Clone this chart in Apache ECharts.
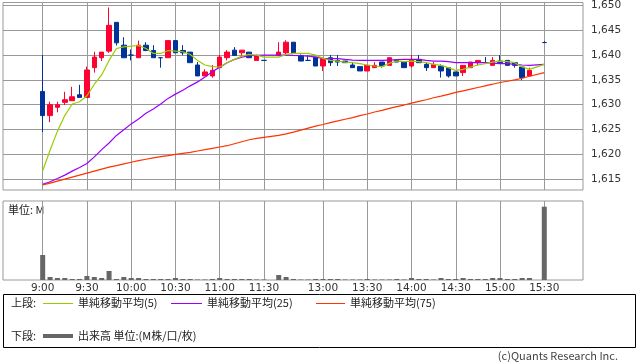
<!DOCTYPE html>
<html><head><meta charset="utf-8">
<style>html,body{margin:0;padding:0;background:#fff}#c{width:638px;height:362px}</style>
<script src="https://cdn.jsdelivr.net/npm/echarts@6/dist/echarts.min.js"></script>
</head><body><div id="c"></div><script>
// 5-minute slots: 0 = 9:00 ... 30 = 11:30, 31 = lunch gap, 32 = 12:30 ... 68 = 15:30
const candleSlots = [0,1,2,3,4,5,6,7,8,9,10,11,12,13,14,15,16,17,18,19,20,21,22,23,24,25,26,27,28,29,30,
  32,33,34,35,36,37,38,39,40,41,42,43,44,45,46,47,48,49,50,51,52,53,54,55,56,57,58,59,60,61,62,63,64,65,66,68];
const openP = [1632.67,1627.8,1629.47,1630.47,1630.8,1632,1631.47,1637.47,1639.47,1640.8,1646.6,1642,1640,1639.47,1642,1640.93,1639.47,1639.47,1642.93,1640.93,1640.6,1638,1635.8,1635.8,1637.47,1639.47,1641,1640.47,1640.6,1638.93,1638.93,
  1639.93,1640.47,1642.6,1639.93,1638.93,1639.6,1637.8,1639.47,1638.93,1638.8,1638,1637.67,1636.8,1637.47,1638.6,1637.93,1638.93,1638.6,1637.8,1639.13,1638.13,1637.47,1637.8,1637.47,1636.6,1636.47,1637.47,1638.47,1638.47,1637.93,1638.8,1638.93,1638.47,1637.6,1635.8,1642.53];
const closeP = [1627.8,1630,1630,1631,1631.6,1631.47,1637,1639.6,1640.6,1646,1642.47,1639.47,1640,1642,1640.93,1639.47,1639.47,1642.93,1640.47,1640.47,1638.47,1635.8,1636.6,1636.93,1639.6,1640.6,1639.93,1641,1639.47,1639.8,1638.93,
  1640.6,1642.6,1640.47,1638.8,1638.93,1637.8,1639.3,1638.47,1638.6,1638.47,1637.47,1636.8,1637.93,1637.93,1637.8,1639.47,1638.6,1637.47,1639.13,1638.47,1637.47,1638.13,1636.8,1635.8,1635.8,1637.93,1638.6,1638.93,1638.47,1638.93,1638.47,1637.93,1637.93,1635.47,1636.93,1642.53];
const lowP = [1624.47,1626.47,1628.47,1629.93,1630.8,1631.47,1631.47,1636.47,1638.8,1640.47,1641.93,1639.47,1638.93,1639.47,1640.8,1639.47,1637.47,1639.47,1640.47,1640,1638.47,1635.8,1635.8,1635.47,1637.47,1638.93,1639.93,1639.6,1639.47,1638.93,1638.93,
  1639.93,1640.13,1640.47,1638.8,1638.93,1637.8,1636.8,1637.8,1637.8,1638.47,1637.47,1636.8,1636.8,1637.47,1637.47,1637.93,1638.6,1637.47,1637.47,1638.47,1636.8,1637.47,1635.47,1635.47,1635.8,1635.8,1637.47,1637.93,1638.47,1637.93,1638.47,1637.93,1637.47,1634.93,1635.8,1642.53];
const highP = [1640,1630.6,1630.6,1632.6,1633.6,1634,1637.67,1640.67,1640.6,1649.6,1646.6,1643.6,1641.13,1642.93,1642.6,1642,1639.47,1642.93,1642.93,1642,1640.6,1638.6,1637.13,1638,1640,1641,1641.6,1641,1640.6,1640.13,1638.93,
  1642.6,1643,1642.6,1640.13,1640,1639.6,1639.47,1640,1640,1638.8,1638.47,1637.67,1637.93,1638.6,1638.6,1639.6,1638.93,1638.6,1640,1640,1638.6,1638.6,1638.13,1637.47,1636.6,1637.93,1638.6,1638.93,1639.6,1639.6,1640,1638.93,1638.47,1637.6,1637.47,1642.8];
const ma5 = [1616.67,1620.8,1624.67,1627.8,1630.13,1630.6,1631.8,1634.13,1636,1638.93,1641.33,1641.67,1641.8,1641.93,1641.33,1640.33,1640.33,1640.93,1640.8,1640.67,1640.13,1638.93,1638,1637.67,1637.6,1638.47,1639.13,1639.8,1640.13,1640,1639.6,
  1639.6,1640.13,1640.33,1640.33,1640.33,1640,1639.33,1638.93,1638.8,1638.6,1638.47,1638.27,1638,1637.8,1637.67,1638.33,1638.8,1638.67,1638.8,1638.67,1638.47,1638.13,1637.93,1637.47,1636.93,1637.13,1637.6,1638,1638.27,1638.6,1638.8,1638.67,1638.47,1637.6,1637.13,1638.13];
const ma25 = [1613.93,1614.47,1615.13,1615.8,1616.6,1617.33,1618.13,1619.47,1620.93,1622.27,1623.8,1624.93,1626.13,1627.13,1628.27,1629.13,1630.13,1631.27,1632.13,1632.93,1633.8,1634.6,1635.6,1636.67,1637.53,1638.47,1639.13,1639.6,1639.87,1639.93,1640,
  1640,1640,1639.93,1639.87,1639.8,1639.6,1639.33,1639.27,1639.27,1639.13,1639,1638.93,1638.93,1638.93,1638.93,1639,1639.07,1639.13,1639.13,1639.13,1638.93,1638.8,1638.8,1638.67,1638.47,1638.47,1638.47,1638.47,1638.47,1638.4,1638.27,1638.27,1638.13,1638,1637.93,1638.13];
const ma75 = [1613.8,1614.2,1614.6,1615,1615.4,1615.8,1616.2,1616.6,1617,1617.4,1617.73,1618.07,1618.4,1618.73,1619,1619.27,1619.53,1619.73,1620,1620.2,1620.4,1620.67,1620.93,1621.2,1621.47,1621.73,1622.13,1622.53,1622.93,1623.2,1623.4,
  1623.8,1624.13,1624.47,1624.87,1625.27,1625.67,1626,1626.4,1626.73,1627.07,1627.4,1627.8,1628.13,1628.53,1628.87,1629.27,1629.6,1629.93,1630.33,1630.67,1631,1631.4,1631.73,1632.07,1632.47,1632.8,1633.13,1633.47,1633.8,1634.13,1634.47,1634.73,1635,1635.33,1635.73,1636.47];
const volume = [2.5,0.3,0.2,0.2,0.1,0.1,0.4,0.3,0.2,0.9,0.1,0.3,0.2,0.2,0.1,0.1,0.1,0.1,0.2,0.1,0.1,0.05,0.05,0.1,0.2,0.1,0.1,0.1,0.1,0.05,0.05,
  0.5,0.3,0.1,0.05,0.05,0.1,0.1,0.1,0.1,0.05,0.05,0.05,0.1,0.05,0.05,0.05,0.1,0.05,0.2,0.1,0.1,0.05,0.2,0.1,0.1,0.2,0.1,0.1,0.1,0.2,0.2,0.1,0.1,0.2,0.2,7.33];
const timeTickSlots = [0,6,12,18,24,30,38,44,50,56,62,68];
const timeTickLabels = ['9:00','9:30','10:00','10:30','11:00','11:30','13:00','13:30','14:00','14:30','15:00','15:30'];
const priceTicks = [1615,1620,1625,1630,1635,1640,1645,1650];

const UP = '#ff0033', DOWN = '#003399', GRID = '#999999';
const candleData = candleSlots.map((s, i) => {
  const item = { value: [s, openP[i], closeP[i], lowP[i], highP[i]] };
  if (openP[i] === closeP[i]) item.itemStyle = { color: DOWN, color0: DOWN, borderColor: DOWN, borderColor0: DOWN };
  return item;
});
const pair = arr => candleSlots.map((s, i) => [s, arr[i]]);

const xMin = -5.38, xMax = 73.25;
const axFont = { fontFamily: 'DejaVu Sans', fontSize: 10.5, color: '#333' };
const jp = 'Noto Sans CJK JP';

const chart = echarts.init(document.getElementById('c'), null, { renderer: 'canvas' });
chart.setOption({
  animation: false,
  backgroundColor: '#fff',
  grid: [
    { left: 3, top: 1, width: 580, height: 189, show: true, borderColor: GRID, borderWidth: 1, containLabel: false },
    { left: 3, top: 201, width: 580, height: 79, show: true, borderColor: GRID, borderWidth: 1, containLabel: false }
  ],
  xAxis: [
    { type: 'value', gridIndex: 0, min: xMin, max: xMax, axisLine: { show: false },
      axisTick: { show: false, customValues: timeTickSlots }, axisLabel: { show: false },
      splitLine: { show: true, lineStyle: { color: GRID, width: 1 } } },
    { type: 'value', gridIndex: 1, min: xMin, max: xMax, axisLine: { show: false },
      axisTick: { show: false, customValues: timeTickSlots },
      axisLabel: { show: true, customValues: timeTickSlots, margin: 3, ...axFont,
        formatter: v => timeTickLabels[timeTickSlots.indexOf(Math.round(v))] || '' },
      splitLine: { show: true, lineStyle: { color: GRID, width: 1 } } }
  ],
  yAxis: [
    { type: 'value', gridIndex: 0, position: 'right', min: 1612.8, max: 1650.6, scale: true,
      axisLine: { show: false },
      axisTick: { show: true, inside: false, length: 3, customValues: priceTicks, lineStyle: { color: GRID } },
      axisLabel: { show: true, customValues: priceTicks, margin: 8, ...axFont,
        formatter: v => String(Math.round(v)).replace(/(\d)(\d{3})$/, '$1,$2') },
      splitLine: { show: true, lineStyle: { color: GRID, width: 1 } } },
    { type: 'value', gridIndex: 1, position: 'right', min: 0, max: 7.9,
      axisLine: { show: false }, axisTick: { show: false }, axisLabel: { show: false }, splitLine: { show: false } }
  ],
  series: [
    { type: 'candlestick', name: '株価', xAxisIndex: 0, yAxisIndex: 0, data: candleData,
      encode: { x: 0, y: [1, 2, 3, 4] }, barWidth: 5, z: 2,
      itemStyle: { color: UP, color0: DOWN, borderColor: UP, borderColor0: DOWN, borderWidth: 1 } },
    { type: 'line', name: '単純移動平均(5)', data: pair(ma5), showSymbol: false, symbol: 'none', z: 4,
      lineStyle: { color: '#99cc00', width: 1.2 }, itemStyle: { color: '#99cc00' } },
    { type: 'line', name: '単純移動平均(25)', data: pair(ma25), showSymbol: false, symbol: 'none', z: 3,
      lineStyle: { color: '#9900ff', width: 1.2 }, itemStyle: { color: '#9900ff' } },
    { type: 'line', name: '単純移動平均(75)', data: pair(ma75), showSymbol: false, symbol: 'none', z: 3,
      lineStyle: { color: '#ff3300', width: 1.2 }, itemStyle: { color: '#ff3300' } },
    { type: 'bar', name: '出来高 単位:(M株/口/枚)', xAxisIndex: 1, yAxisIndex: 1, data: pair(volume),
      barWidth: 5, itemStyle: { color: '#666666' } }
  ],
  graphic: [
    { type: 'text', left: 8, top: 204, style: { text: '単位: M', font: '11px "' + jp + '"', fill: '#222' } },
    { type: 'rect', shape: { x: 3.5, y: 294.5, width: 632, height: 53 }, style: { fill: 'none', stroke: '#000', lineWidth: 1 } },
    { type: 'text', x: 11, y: 303, style: { text: '上段:', font: '11px "' + jp + '"', fill: '#222', verticalAlign: 'middle' } },
    { type: 'line', shape: { x1: 43, y1: 303.5, x2: 73, y2: 303.5 }, style: { stroke: '#99cc00', lineWidth: 1 } },
    { type: 'text', x: 78, y: 303, style: { text: '単純移動平均(5)', font: '11px "' + jp + '"', fill: '#222', verticalAlign: 'middle' } },
    { type: 'line', shape: { x1: 171, y1: 303.5, x2: 202, y2: 303.5 }, style: { stroke: '#9900ff', lineWidth: 1 } },
    { type: 'text', x: 207, y: 303, style: { text: '単純移動平均(25)', font: '11px "' + jp + '"', fill: '#222', verticalAlign: 'middle' } },
    { type: 'line', shape: { x1: 316, y1: 303.5, x2: 345, y2: 303.5 }, style: { stroke: '#ff3300', lineWidth: 1 } },
    { type: 'text', x: 350, y: 303, style: { text: '単純移動平均(75)', font: '11px "' + jp + '"', fill: '#222', verticalAlign: 'middle' } },
    { type: 'text', x: 11, y: 336, style: { text: '下段:', font: '11px "' + jp + '"', fill: '#222', verticalAlign: 'middle' } },
    { type: 'line', shape: { x1: 43, y1: 336, x2: 73, y2: 336 }, style: { stroke: '#666666', lineWidth: 4 } },
    { type: 'text', x: 78, y: 336, style: { text: '出来高 単位:(M株/口/枚)', font: '11px "' + jp + '"', fill: '#222', verticalAlign: 'middle' } },
    { type: 'text', x: 618, y: 356, style: { text: '(c)Quants Research Inc.', font: '11px "' + jp + '"', fill: '#444', align: 'right', verticalAlign: 'middle' } }
  ]
});
</script></body></html>
